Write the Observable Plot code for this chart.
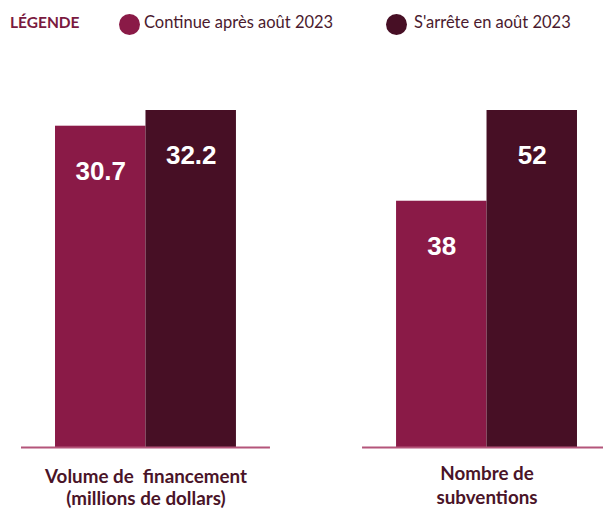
<!DOCTYPE html>
<html><head><meta charset="utf-8">
<script src="https://cdn.jsdelivr.net/npm/d3@7"></script>
<script src="https://cdn.jsdelivr.net/npm/@observablehq/plot@0.6"></script>
<style>
html,body{margin:0;padding:0;background:#fff;overflow:hidden;width:603px;height:511px}
#legend{position:relative;height:46px;font-family:Lato,sans-serif;width:603px}
#legend .t{position:absolute;line-height:1;white-space:nowrap}
#legend .dot{position:absolute;width:21px;height:21px;border-radius:50%}
#chart{width:603px;overflow:hidden}
#chart svg{max-width:none !important}
</style></head><body>
<div id="legend"></div>
<div id="chart"></div>
<script>
const groups = ["Volume de  financement\n(millions de dollars)", "Nombre de\nsubventions"];
const series = ["Continue après août 2023", "S'arrête en août 2023"];
const continueValues = [30.7, 38];
const stopValues = [32.2, 52];
const colors = ["#8a1a47", "#470f25"];
const legendTitle = "LÉGENDE";

const rows = [];
groups.forEach((g, i) => {
  const vals = [continueValues[i], stopValues[i]];
  const m = d3.max(vals);
  vals.forEach((v, j) => rows.push({group: g, series: series[j], value: v, norm: v / m}));
});

// legend
const lg = document.getElementById("legend");
lg.innerHTML = `
  <div class="t" style="left:10px;top:15.3px;font-size:15.5px;font-weight:700;color:#7a1a40">${legendTitle}</div>
  <div class="dot" style="left:119px;top:13.5px;background:${colors[0]}"></div>
  <div class="t" style="left:144px;top:13.5px;font-size:16.5px;color:#4a1a2e">${series[0]}</div>
  <div class="dot" style="left:386px;top:13.5px;background:${colors[1]}"></div>
  <div class="t" style="left:414px;top:13.5px;font-size:16.5px;color:#4a1a2e">${series[1]}</div>`;

const labelStyle = {fill: "#4a1428", fontSize: 18.8, fontWeight: "bold", fontFamily: "Lato", frameAnchor: "bottom", lineAnchor: "top"};

const chart = Plot.plot({
  width: 611, height: 465,
  marginTop: 64, marginBottom: 64, marginLeft: 21, marginRight: 0,
  style: {fontFamily: "Lato", background: "white", maxWidth: "none"},
  fx: {domain: groups, paddingInner: 0.27, paddingOuter: 0, round: false, axis: null},
  x: {domain: series, paddingInner: 0, paddingOuter: 0.376, round: false, axis: null},
  y: {domain: [0, 1], axis: null},
  color: {domain: series, range: colors},
  marks: [
    Plot.barY(rows, {fx: "group", x: "series", y: "norm", fill: "series"}),
    Plot.ruleY([0], {stroke: "#b4557a", strokeWidth: 2}),
    Plot.text(rows, {fx: "group", x: "series", y: "norm", text: d => String(d.value),
      fill: "white", fontSize: 26, fontWeight: "bold", fontFamily: "Liberation Sans, Arial, sans-serif",
      lineAnchor: "middle", dy: 45}),
    Plot.text([groups[0]], {fx: d => d, text: d => d, ...labelStyle, dy: 20, lineHeight: 1.18}),
    Plot.text([groups[1]], {fx: d => d, text: d => d, ...labelStyle, dy: 15, lineHeight: 1.3})
  ]
});
document.getElementById("chart").appendChild(chart);
</script>
</body></html>
